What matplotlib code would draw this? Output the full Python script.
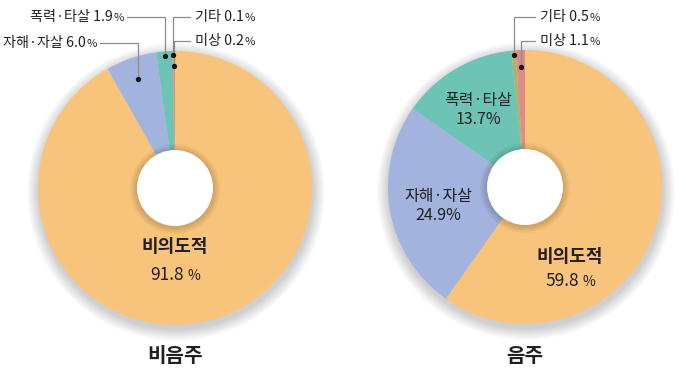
import numpy as np
import matplotlib
matplotlib.use('Agg')
import matplotlib.pyplot as plt
from matplotlib.patches import Circle

plt.rcParams['font.family'] = ['Noto Sans CJK KR', 'DejaVu Sans']

# data
categories = ['비의도적', '자해·자살', '폭력·타살', '기타', '미상']
non_drinking = [91.8, 6.0, 1.9, 0.1, 0.2]
drinking = [59.8, 24.9, 13.7, 0.5, 1.1]
titles = ['비음주', '음주']
colors = ['#F8C47B', '#A2B4DE', '#6DC4B5', '#A8B66C', '#E08B86']

W, H = 686, 381
R = 137
HOLE = 38
TXT = '#231F20'

fig = plt.figure(figsize=(W / 100, H / 100), dpi=100)
ax = fig.add_axes([0, 0, 1, 1])
renderer = fig.canvas.get_renderer()


def donut(cx, cy, vals):
    # soft drop shadow
    for i in range(12):
        ax.add_patch(Circle((cx + 1, cy - 4), R + 1 + i * 1.0, color='k',
                            alpha=0.014, lw=0, zorder=1))
    wedges, _ = ax.pie(vals, colors=colors, startangle=90, counterclock=False,
                       center=(cx, cy), radius=R, frame=True,
                       wedgeprops=dict(linewidth=0, zorder=2))
    # hole with a soft shadow rim
    for i in range(8):
        ax.add_patch(Circle((cx, cy - 1), HOLE + 1 + i * 0.9, color='k',
                            alpha=0.018, lw=0, zorder=3))
    ax.add_patch(Circle((cx, cy), HOLE, color='white', lw=0, zorder=4))
    return wedges


def value_text(x, y, s, size, ha, gap=0.05, weight='normal'):
    # number followed by a smaller % sign
    t1 = ax.text(x, y, s, ha='left', va='center', fontsize=size,
                 fontweight=weight, color=TXT, zorder=6)
    t2 = ax.text(x, y - size * 0.05, '%', ha='left', va='center',
                 fontsize=size * 0.8, color=TXT, zorder=6)
    w1 = t1.get_window_extent(renderer).width
    w2 = t2.get_window_extent(renderer).width
    g = size * gap
    total = w1 + g + w2
    x0 = {'left': x, 'center': x - total / 2, 'right': x - total}[ha]
    t1.set_x(x0)
    t2.set_x(x0 + w1 + g)


def dot_at(w, cx, cy, frac):
    a = np.deg2rad((w.theta1 + w.theta2) / 2)
    return cx + R * frac * np.cos(a), cy + R * frac * np.sin(a)


def leader(w, cx, cy, frac, x0, ty, name, val, ha):
    dx, dy = dot_at(w, cx, cy, frac)
    ax.plot([x0, dx, dx], [ty, ty, dy], color='#8C8C8C', lw=0.9, zorder=5)
    ax.plot(dx, dy, 'o', color='#111111', ms=2.8, zorder=6)
    tx = x0 - 3 if ha == 'right' else x0 + 5
    value_text(tx, ty, '%s %.1f' % (name, val), 10.2, ha)


cxL, cyL = 175, H - 188
cxR, cyR = 525, H - 187

wl = donut(cxL, cyL, non_drinking)
wr = donut(cxR, cyR, drinking)
ax.set_xlim(0, W)
ax.set_ylim(0, H)
ax.set_aspect('auto')
ax.axis('off')

# left chart labels
leader(wl[1], cxL, cyL, 0.84, 100, H - 43, categories[1], non_drinking[1], 'right')
leader(wl[2], cxL, cyL, 0.97, 127, H - 17, categories[2], non_drinking[2], 'right')
leader(wl[3], cxL, cyL, 0.97, 190, H - 17, categories[3], non_drinking[3], 'left')
leader(wl[4], cxL, cyL, 0.89, 190, H - 41, categories[4], non_drinking[4], 'left')
ax.text(175, H - 247, categories[0], ha='center', va='center', fontsize=13,
        fontweight='bold', color=TXT, zorder=6)
value_text(175, H - 275, '%.1f' % non_drinking[0], 12.5, 'center', gap=0.3)

# right chart labels
leader(wr[3], cxR, cyR, 0.97, 535, H - 17, categories[3], drinking[3], 'left')
leader(wr[4], cxR, cyR, 0.88, 535, H - 41, categories[4], drinking[4], 'left')
ax.text(570, H - 256, categories[0], ha='center', va='center', fontsize=13,
        fontweight='bold', color=TXT, zorder=6)
value_text(570, H - 281, '%.1f' % drinking[0], 12.5, 'center', gap=0.3)
ax.text(438, H - 196, categories[1], ha='center', va='center', fontsize=11.5,
        color=TXT, zorder=6)
ax.text(438, H - 216, '%.1f%%' % drinking[1], ha='center', va='center',
        fontsize=11.5, color=TXT, zorder=6)
ax.text(478, H - 100, categories[2], ha='center', va='center', fontsize=11.5,
        color=TXT, zorder=6)
ax.text(478, H - 120, '%.1f%%' % drinking[2], ha='center', va='center',
        fontsize=11.5, color=TXT, zorder=6)

# titles
ax.text(cxL, H - 356, titles[0], ha='center', va='center', fontsize=14.5,
        fontweight='bold', color=TXT)
ax.text(cxR, H - 356, titles[1], ha='center', va='center', fontsize=14.5,
        fontweight='bold', color=TXT)

fig.savefig('out.png', dpi=100)
